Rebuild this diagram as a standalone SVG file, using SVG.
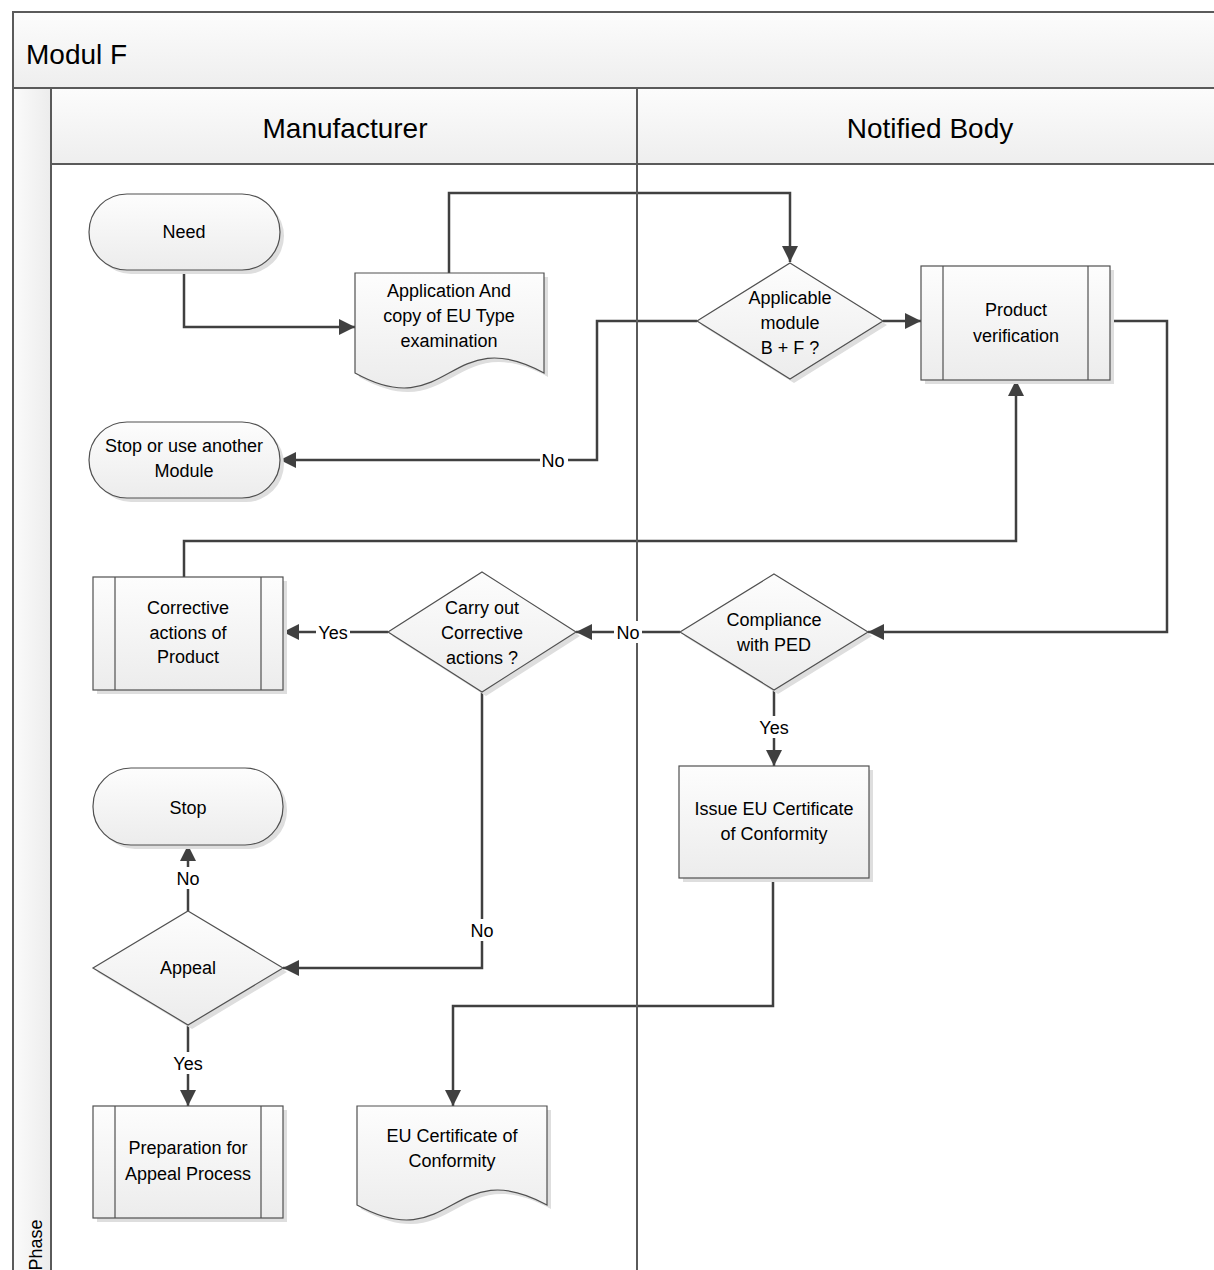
<svg xmlns="http://www.w3.org/2000/svg" width="1214" height="1270" viewBox="0 0 1214 1270">
<defs>
<linearGradient id="gNode" x1="0" y1="0" x2="0" y2="1"><stop offset="0" stop-color="#fdfdfd"/><stop offset="1" stop-color="#ececec"/></linearGradient>
<linearGradient id="gHead" x1="0" y1="0" x2="0" y2="1"><stop offset="0" stop-color="#fcfcfc"/><stop offset="1" stop-color="#eeeeee"/></linearGradient>
<linearGradient id="gPhase" x1="0" y1="0" x2="1" y2="0"><stop offset="0" stop-color="#fbfbfb"/><stop offset="1" stop-color="#ececec"/></linearGradient>
<marker id="arr" markerUnits="userSpaceOnUse" markerWidth="17" markerHeight="16" refX="16" refY="8" orient="auto"><path d="M0,0 L16,8 L0,16 z" fill="#404040"/></marker>
<style>
.head{fill:url(#gHead);stroke:#5a5a5a;stroke-width:2}
.phase{fill:url(#gPhase);stroke:#5a5a5a;stroke-width:2}
.body{fill:#ffffff;stroke:#5a5a5a;stroke-width:2}
.shape{fill:url(#gNode);stroke:#505050;stroke-width:1.2}
.shadow{fill:#dedede;stroke:none}
.inner{stroke:#505050;stroke-width:1.2;fill:none}
.conn{fill:none;stroke:#404040;stroke-width:2.5}
.t{font-family:"Liberation Sans",Arial,sans-serif;font-size:18px;fill:#000;text-anchor:middle}
.h{font-family:"Liberation Sans",Arial,sans-serif;font-size:28px;fill:#000}
.lbl{font-family:"Liberation Sans",Arial,sans-serif;font-size:18px;fill:#000;text-anchor:middle}
</style>
</defs>

<g id="pool">
<rect x="13" y="12" width="1210" height="76" class="head"/>
<text class="h" x="26" y="64">Modul F</text>
<rect x="13" y="88" width="38" height="1190" class="phase"/>
<text class="t" x="42" y="1245" transform="rotate(-90 42 1245)">Phase</text>
<rect x="51" y="88" width="586" height="76" class="head"/>
<rect x="637" y="88" width="590" height="76" class="head"/>
<text class="h" x="345" y="138" text-anchor="middle">Manufacturer</text>
<text class="h" x="930" y="138" text-anchor="middle">Notified Body</text>
<rect x="51" y="164" width="1176" height="1120" class="body"/>
</g>

<g id="connectors">
<path class="conn" d="M184,270 V327 H355" marker-end="url(#arr)"/>
<path class="conn" d="M449,273 V193 H790 V262" marker-end="url(#arr)"/>
<path class="conn" d="M883,321 H921" marker-end="url(#arr)"/>
<path class="conn" d="M697,321 H597 V460 H280" marker-end="url(#arr)"/>
<path class="conn" d="M1110,321 H1167 V632 H868" marker-end="url(#arr)"/>
<path class="conn" d="M680,632 H576" marker-end="url(#arr)"/>
<path class="conn" d="M388,632 H283" marker-end="url(#arr)"/>
<path class="conn" d="M184,577 V541 H1016 V380" marker-end="url(#arr)"/>
<path class="conn" d="M774,690 V766" marker-end="url(#arr)"/>
<path class="conn" d="M773,878 V1006 H453 V1106" marker-end="url(#arr)"/>
<path class="conn" d="M482,692 V968 H283" marker-end="url(#arr)"/>
<path class="conn" d="M188,911 V845" marker-end="url(#arr)"/>
<path class="conn" d="M188,1025 V1106" marker-end="url(#arr)"/>
</g>

<line id="lane-divider" x1="637" y1="164" x2="637" y2="1270" stroke="#5a5a5a" stroke-width="2"/>

<g id="connector-labels">
<rect x="540" y="449" width="28" height="22" fill="#fff"/><text class="lbl" x="553" y="467">No</text>
<rect x="316" y="621" width="34" height="22" fill="#fff"/><text class="lbl" x="333" y="639">Yes</text>
<rect x="614" y="621" width="28" height="22" fill="#fff"/><text class="lbl" x="628" y="639">No</text>
<rect x="757" y="716" width="34" height="22" fill="#fff"/><text class="lbl" x="774" y="734">Yes</text>
<rect x="174" y="867" width="28" height="22" fill="#fff"/><text class="lbl" x="188" y="885">No</text>
<rect x="468" y="919" width="28" height="22" fill="#fff"/><text class="lbl" x="482" y="937">No</text>
<rect x="171" y="1052" width="34" height="22" fill="#fff"/><text class="lbl" x="188" y="1070">Yes</text>
</g>

<g id="node-need">
<rect class="shadow" x="93" y="198" width="191" height="76" rx="38"/>
<rect class="shape" x="89" y="194" width="191" height="76" rx="38"/>
<text class="t" x="184" y="238">Need</text>
</g>

<g id="node-application">
<path class="shadow" d="M359,277 H548 V377 C453,325 453,429 359,377 Z"/>
<path class="shape" d="M355,273 H544 V373 C449,321 449,425 355,373 Z"/>
<text class="t" x="449" y="297">Application And</text>
<text class="t" x="449" y="322">copy of EU Type</text>
<text class="t" x="449" y="347">examination</text>
</g>

<g id="node-applicable">
<path class="shadow" d="M794,267 L887,325 L794,383 L701,325 Z"/>
<path class="shape" d="M790,263 L883,321 L790,379 L697,321 Z"/>
<text class="t" x="790" y="304">Applicable</text>
<text class="t" x="790" y="329">module</text>
<text class="t" x="790" y="354">B + F ?</text>
</g>

<g id="node-product-verification">
<rect class="shadow" x="925" y="270" width="189" height="114"/>
<rect class="shape" x="921" y="266" width="189" height="114"/>
<line class="inner" x1="943" y1="266" x2="943" y2="380"/>
<line class="inner" x1="1088" y1="266" x2="1088" y2="380"/>
<text class="t" x="1016" y="316">Product</text>
<text class="t" x="1016" y="342">verification</text>
</g>

<g id="node-stop-or-use">
<rect class="shadow" x="93" y="426" width="191" height="76" rx="38"/>
<rect class="shape" x="89" y="422" width="191" height="76" rx="38"/>
<text class="t" x="184" y="452">Stop or use another</text>
<text class="t" x="184" y="477">Module</text>
</g>

<g id="node-corrective">
<rect class="shadow" x="97" y="581" width="190" height="113"/>
<rect class="shape" x="93" y="577" width="190" height="113"/>
<line class="inner" x1="115" y1="577" x2="115" y2="690"/>
<line class="inner" x1="261" y1="577" x2="261" y2="690"/>
<text class="t" x="188" y="614">Corrective</text>
<text class="t" x="188" y="639">actions of</text>
<text class="t" x="188" y="663">Product</text>
</g>

<g id="node-carry-out">
<path class="shadow" d="M486,576 L580,636 L486,696 L392,636 Z"/>
<path class="shape" d="M482,572 L576,632 L482,692 L388,632 Z"/>
<text class="t" x="482" y="614">Carry out</text>
<text class="t" x="482" y="639">Corrective</text>
<text class="t" x="482" y="664">actions ?</text>
</g>

<g id="node-compliance">
<path class="shadow" d="M778,578 L872,636 L778,694 L684,636 Z"/>
<path class="shape" d="M774,574 L868,632 L774,690 L680,632 Z"/>
<text class="t" x="774" y="626">Compliance</text>
<text class="t" x="774" y="651">with PED</text>
</g>

<g id="node-issue">
<rect class="shadow" x="683" y="770" width="190" height="112"/>
<rect class="shape" x="679" y="766" width="190" height="112"/>
<text class="t" x="774" y="815">Issue EU Certificate</text>
<text class="t" x="774" y="840">of Conformity</text>
</g>

<g id="node-stop">
<rect class="shadow" x="97" y="772" width="190" height="77" rx="38"/>
<rect class="shape" x="93" y="768" width="190" height="77" rx="38"/>
<text class="t" x="188" y="814">Stop</text>
</g>

<g id="node-appeal">
<path class="shadow" d="M192,915 L287,972 L192,1029 L97,972 Z"/>
<path class="shape" d="M188,911 L283,968 L188,1025 L93,968 Z"/>
<text class="t" x="188" y="974">Appeal</text>
</g>

<g id="node-preparation">
<rect class="shadow" x="97" y="1110" width="190" height="112"/>
<rect class="shape" x="93" y="1106" width="190" height="112"/>
<line class="inner" x1="115" y1="1106" x2="115" y2="1218"/>
<line class="inner" x1="261" y1="1106" x2="261" y2="1218"/>
<text class="t" x="188" y="1154">Preparation for</text>
<text class="t" x="188" y="1180">Appeal Process</text>
</g>

<g id="node-eu-certificate">
<path class="shadow" d="M361,1110 H551 V1209 C456,1157 456,1261 361,1209 Z"/>
<path class="shape" d="M357,1106 H547 V1205 C452,1153 452,1257 357,1205 Z"/>
<text class="t" x="452" y="1142">EU Certificate of</text>
<text class="t" x="452" y="1167">Conformity</text>
</g>
</svg>
